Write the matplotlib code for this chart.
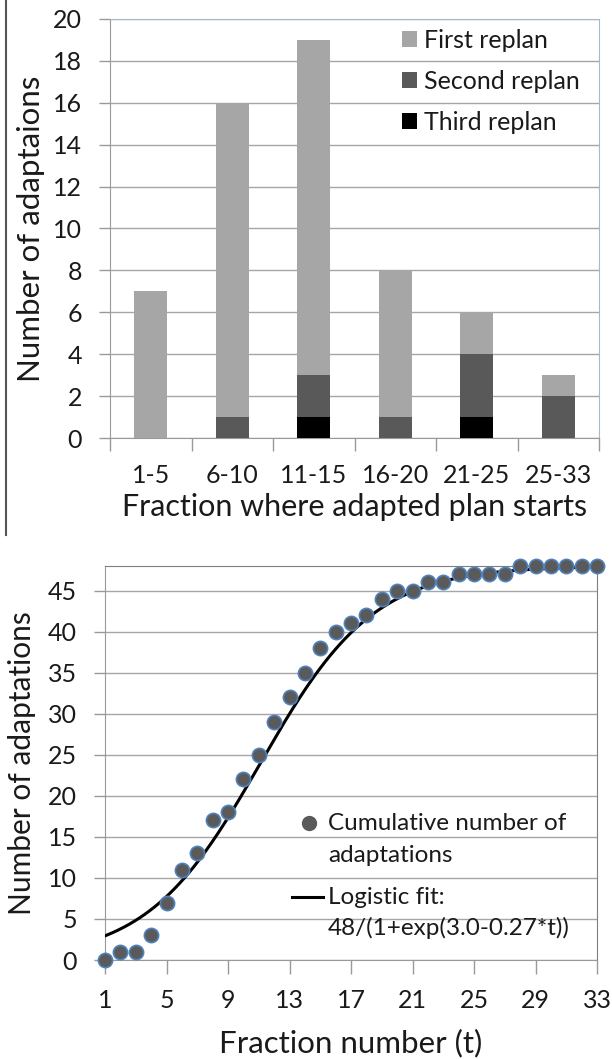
import numpy as np
import matplotlib
matplotlib.use("Agg")
import matplotlib.pyplot as plt
from matplotlib.lines import Line2D

plt.rcParams['font.family'] = ['Lato', 'DejaVu Sans']

# ---- Top chart data ----
categories = ["1-5", "6-10", "11-15", "16-20", "21-25", "25-33"]
third_replan = [0, 0, 1, 0, 1, 0]
second_replan = [0, 1, 2, 1, 3, 2]
first_replan = [7, 15, 16, 7, 2, 1]
series_names = ["First replan", "Second replan", "Third replan"]
top_yticks = [0, 2, 4, 6, 8, 10, 12, 14, 16, 18, 20]

# ---- Bottom chart data ----
fraction_t = list(range(1, 34))
cumulative = [0, 1, 1, 3, 7, 11, 13, 17, 18, 22, 25, 29, 32, 35, 38, 40, 41, 42,
              44, 45, 45, 46, 46, 47, 47, 47, 47, 48, 48, 48, 48, 48, 48]
fit_K, fit_a, fit_b = 48.0, 3.0, 0.27
bottom_xticks = [1, 5, 9, 13, 17, 21, 25, 29, 33]
bottom_yticks = [0, 5, 10, 15, 20, 25, 30, 35, 40, 45]
scatter_label = ["Cumulative number of", "adaptations"]
fit_label = ["Logistic fit:", "48/(1+exp(3.0-0.27*t))"]

c_first, c_second, c_third = "#a6a6a6", "#595959", "#000000"
grid_c = "#a6a6a6"
txt_c = "#1a1a1a"
mk_face, mk_edge = "#5a5a5a", "#4f81bd"
W, H = 612, 1059

fig = plt.figure(figsize=(6.12, 10.59), dpi=100)

def axrect(l, r, t, b):
    return [l / W, 1 - b / H, (r - l) / W, (b - t) / H]

def fx(px):
    return px / W

def fy(py):
    return 1 - py / H

# ================= Top chart =================
ax1 = fig.add_axes(axrect(110, 599, 19, 438))
x = np.arange(len(categories))
w = 0.4
b3 = ax1.bar(x, third_replan, w, color=c_third, zorder=3)
bot2 = np.array(third_replan)
b2 = ax1.bar(x, second_replan, w, bottom=bot2, color=c_second, zorder=3)
bot1 = bot2 + np.array(second_replan)
b1 = ax1.bar(x, first_replan, w, bottom=bot1, color=c_first, zorder=3)

ax1.set_xlim(-0.5, len(categories) - 0.5)
ax1.set_ylim(0, 20)
ax1.set_yticks(top_yticks)
ax1.yaxis.grid(True, color=grid_c, linewidth=1.0, zorder=0)
ax1.set_axisbelow(True)
ax1.set_xticks(x)
ax1.set_xticklabels(categories)
ax1.set_xticks(np.arange(-0.5, len(categories)), minor=True)
ax1.tick_params(axis='x', which='major', length=0, pad=19, labelsize=18, colors=txt_c)
ax1.tick_params(axis='x', which='minor', length=9, width=1, color="#999999")
ax1.tick_params(axis='y', length=8, width=1, color="#999999", pad=12, labelsize=18, labelcolor=txt_c)
for s in ['left', 'bottom']:
    ax1.spines[s].set_color("#999999")
for s in ['top', 'right']:
    ax1.spines[s].set_color("#a9b8c9")
ax1.set_ylabel("Number of adaptaions", fontsize=22.5, color=txt_c, labelpad=6)
ax1.set_xlabel("Fraction where adapted plan starts", fontsize=22, color=txt_c, labelpad=4)

handles = [b1, b2, b3]
leg1 = ax1.legend(handles, series_names, loc='upper right', frameon=False,
                  fontsize=18, handlelength=0.6, handleheight=0.6, handletextpad=0.3,
                  labelspacing=0.72, borderaxespad=0, bbox_to_anchor=(0.982, 1.0))
for t in leg1.get_texts():
    t.set_color(txt_c)

# left border line of the source figure
fig.add_artist(Line2D([fx(6), fx(6)], [1.0, fy(535)], color="#555555", linewidth=1.5))

# ================= Bottom chart =================
ax2 = fig.add_axes(axrect(105, 597, 566, 960))
tt = np.linspace(fraction_t[0], fraction_t[-1], 300)
fit = fit_K / (1 + np.exp(fit_a - fit_b * tt))
ax2.plot(tt, fit, color="black", linewidth=2.2, zorder=3)
ax2.scatter(fraction_t, cumulative, s=105, color=mk_face, edgecolors=mk_edge,
            linewidths=1.2, zorder=4, clip_on=False)
ax2.set_xlim(1, 33)
ax2.set_ylim(0, 48)
ax2.set_xticks(bottom_xticks)
ax2.set_yticks(bottom_yticks)
ax2.yaxis.grid(True, color=grid_c, linewidth=1.0, zorder=0)
ax2.set_axisbelow(True)
ax2.tick_params(axis='x', length=10, width=1, color="#999999", pad=11, labelsize=18, labelcolor=txt_c)
ax2.tick_params(axis='y', length=8, width=1, color="#999999", pad=12, labelsize=18, labelcolor=txt_c)
for s in ['left', 'bottom']:
    ax2.spines[s].set_color("#999999")
for s in ['top', 'right']:
    ax2.spines[s].set_color("#7f7f7f")
ax2.set_ylabel("Number of adaptations", fontsize=21.5, color=txt_c, labelpad=9)
ax2.set_xlabel("Fraction number (t)", fontsize=22.5, color=txt_c, labelpad=12)

# legend of the bottom chart (drawn entry by entry, as in the source)
fig.add_artist(Line2D([fx(309)], [fy(823)], marker='o', markersize=10,
                      markerfacecolor=mk_face, markeredgecolor=mk_face, linestyle='none'))
fig.add_artist(Line2D([fx(292), fx(323)], [fy(897), fy(897)], color="black", linewidth=2.2))
leg_fs = 17.5
for txt, py in zip(scatter_label + fit_label, [823, 855, 897, 928]):
    fig.text(fx(328), fy(py), txt, fontsize=leg_fs, color=txt_c, ha='left', va='center')

fig.savefig("out.png", dpi=100)
